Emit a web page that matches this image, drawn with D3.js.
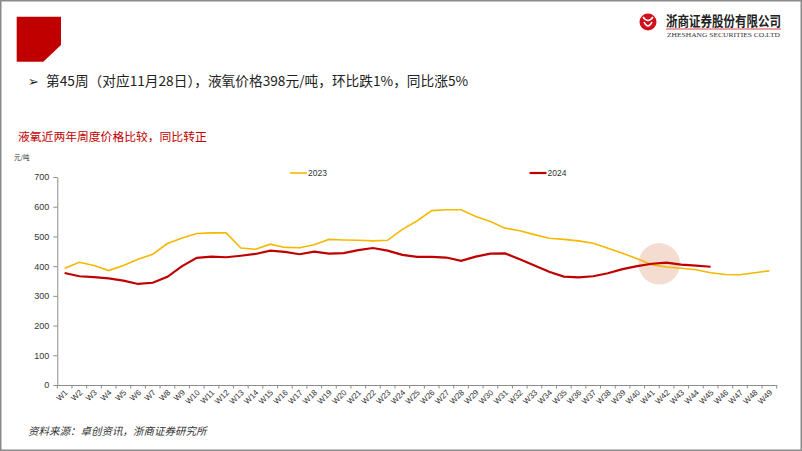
<!DOCTYPE html>
<html><head><meta charset="utf-8">
<script src="https://cdn.jsdelivr.net/npm/d3@7"></script>
<style>
html,body{margin:0;padding:0;background:#fff;}
svg{display:block;font-family:"Liberation Sans","Noto Sans CJK SC",sans-serif;}
.cjk{font-family:"Noto Sans CJK SC","Liberation Sans",sans-serif;}
</style></head>
<body>
<svg id="c" width="802" height="451"></svg>
<script>
const weeks = d3.range(1, 50).map(i => "W" + i);
const values2023 = [393,413,402,385,402,423,440,476,495,510,512,512,461,457,474,463,462,472,490,488,487,485,487,524,552,587,590,590,567,550,528,519,506,494,490,485,477,460,443,425,405,397,393,388,378,372,371,378,384];
const values2024 = [377,366,363,359,351,340,344,364,400,428,432,430,435,441,452,448,440,449,442,444,454,461,452,438,431,431,429,418,432,442,443,423,402,381,365,362,366,376,390,400,408,412,405,402,398];
const yTicks = [0,100,200,300,400,500,600,700];
const seriesNames = ["2023","2024"];
const colors = ["#F5B800","#C00000"];

const svg = d3.select("#c");
// frame
svg.append("rect").attr("x",0.75).attr("y",0.75).attr("width",800.5).attr("height",449.5)
  .attr("fill","none").attr("stroke","#8a8a8a").attr("stroke-width",1.5);

// red corner logo
svg.append("path").attr("d","M16.7,16.7 L61,16.7 L61,45 L43.3,61.7 L16.7,61.7 Z").attr("fill","#C00000");

// company logo
const lg = svg.append("g");
lg.append("circle").attr("cx",648).attr("cy",22).attr("r",8.5).attr("fill","#D0101B");
lg.append("path").attr("d","M643,17 Q648,24 653,17 M644,22 Q648,30 652,22").attr("stroke","#fff").attr("stroke-width",1.6).attr("fill","none");
lg.append("text").attr("class","cjk").attr("x",666).attr("y",26).attr("font-size",13.5).attr("font-weight","bold")
  .attr("fill","#222").attr("textLength",115).attr("lengthAdjust","spacingAndGlyphs").text("浙商证券股份有限公司");
lg.append("line").attr("x1",666).attr("x2",781).attr("y1",29).attr("y2",29).attr("stroke","#D0101B").attr("stroke-width",0.8);
lg.append("text").attr("x",667).attr("y",36.5).attr("font-size",6.5).attr("font-family","Liberation Serif")
  .attr("fill","#333").attr("textLength",113).attr("lengthAdjust","spacingAndGlyphs").text("ZHESHANG SECURITIES CO.LTD");

// headline
svg.append("text").attr("x",28).attr("y",86).attr("font-size",13).attr("fill","#222").text("➢");
svg.append("text").attr("class","cjk").attr("x",46).attr("y",86).attr("font-size",13.7).attr("fill","#222")
  .text("第45周（对应11月28日），液氧价格398元/吨，环比跌1%，同比涨5%");
svg.append("text").attr("class","cjk").attr("x",18).attr("y",141).attr("font-size",11.8).attr("fill","#C00000")
  .text("液氧近两年周度价格比较，同比转正");
svg.append("text").attr("class","cjk").attr("x",14).attr("y",160).attr("font-size",6.5).attr("fill","#333").text("元/吨");

// scales
const x = d3.scaleBand().domain(weeks).range([57.3,776.7]).paddingInner(0).paddingOuter(0);
const y = d3.scaleLinear().domain([0,700]).range([385,177]);
const cx = d => x(d) + x.bandwidth()/2;

// axes
const yAxis = svg.append("g").attr("transform","translate(57.3,0)")
  .call(d3.axisLeft(y).tickValues(yTicks).tickSize(4).tickSizeOuter(0).tickFormat(d3.format("d")));
yAxis.select(".domain").attr("stroke","#8c8c8c");
yAxis.selectAll(".tick line").attr("stroke","#8c8c8c");
yAxis.selectAll(".tick text").attr("font-size",9).attr("fill","#333").attr("x",-8).attr("font-family","Liberation Sans");

const xAxis = svg.append("g").attr("transform","translate(0,385)")
  .call(d3.axisBottom(x).tickSize(0).tickSizeOuter(0));
xAxis.select(".domain").attr("stroke","#8c8c8c");
xAxis.selectAll(".tick text").attr("font-size",8).attr("fill","#333").attr("font-family","Liberation Sans")
  .attr("text-anchor","end").attr("dy",0).attr("y",0)
  .attr("transform","translate(3.5,8) rotate(-45)");
// ticks between categories
const bounds = weeks.map(w => x(w)).concat([x(weeks[weeks.length-1]) + x.bandwidth()]);
svg.append("g").selectAll("line").data(bounds).join("line")
  .attr("x1",d=>d).attr("x2",d=>d).attr("y1",385).attr("y2",388.5).attr("stroke","#8c8c8c");

// highlight circle
svg.append("circle").attr("cx", cx("W41") + x.bandwidth()/2).attr("cy", y(408)).attr("r",20.7)
  .attr("fill","#F4DCD0");

// lines
const line = d3.line().x((d,i)=>cx(weeks[i])).y(d=>y(d));
svg.append("path").datum(values2023).attr("d",line).attr("fill","none").attr("stroke",colors[0]).attr("stroke-width",1.6);
svg.append("path").datum(values2024).attr("d",line).attr("fill","none").attr("stroke",colors[1]).attr("stroke-width",2.2);

// legend
const legendX = [290, 529.5];
seriesNames.forEach((n,i)=>{
  svg.append("line").attr("x1",legendX[i]).attr("x2",legendX[i]+17).attr("y1",173).attr("y2",173)
    .attr("stroke",colors[i]).attr("stroke-width",i?2.2:1.6);
  svg.append("text").attr("x",legendX[i]+18).attr("y",176).attr("font-size",8.5).attr("fill","#333").text(n);
});

// source
svg.append("text").attr("class","cjk").attr("x",28).attr("y",435).attr("font-size",10.5).attr("font-style","italic")
  .attr("fill","#333").text("资料来源：卓创资讯，浙商证券研究所");
</script>
</body></html>
